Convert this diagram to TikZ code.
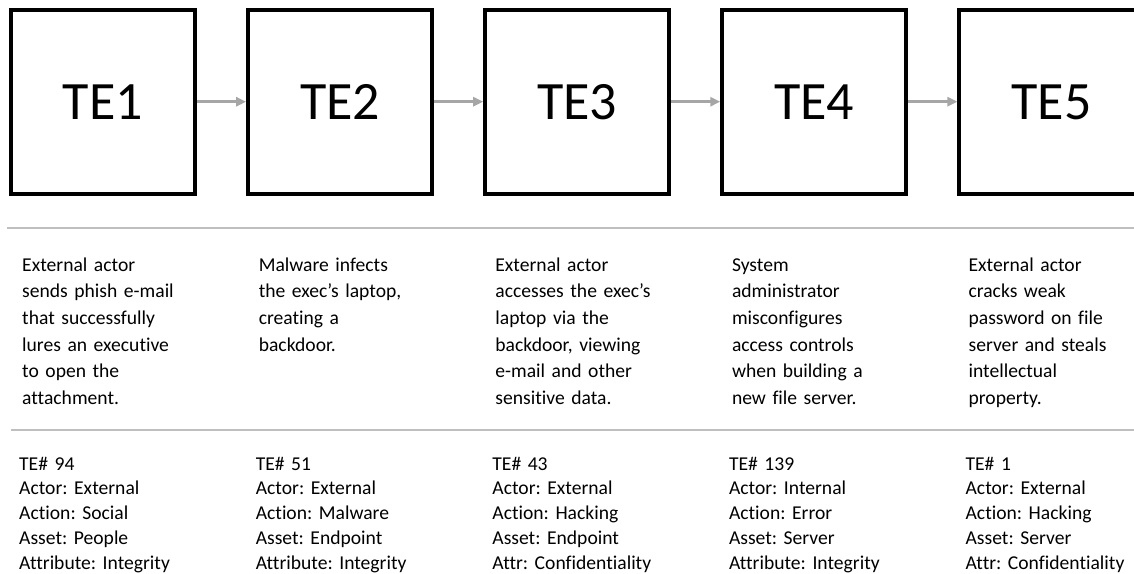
\documentclass[tikz,border=0pt]{standalone}
\usepackage{fontspec}
\setmainfont{Carlito}[Ligatures=NoCommon]
\usetikzlibrary{arrows.meta}
\definecolor{rulegray}{HTML}{BFBFBF}
\definecolor{arrowgray}{HTML}{A6A6A6}
\tikzset{
  tebox/.style={draw=black, line width=4pt, minimum width=184pt, minimum height=184pt,
    inner sep=0pt, text height=35pt, text depth=0pt, font=\fontsize{54pt}{60pt}\selectfont},
  flow/.style={draw=arrowgray, line width=3pt, -{Triangle[length=10pt,width=9pt]}},
  rule/.style={draw=rulegray, line width=2pt},
  desc/.style={anchor=base west, inner sep=0pt, text width=230pt, align=left,
    font=\fontsize{19.6pt}{26.6pt}\selectfont\frenchspacing},
  attrs/.style={anchor=base west, inner sep=0pt, text width=230pt, align=left,
    font=\fontsize{19.6pt}{24.8pt}\selectfont\frenchspacing},
}
\begin{document}
\begin{tikzpicture}[x=1pt,y=-1pt]
\useasboundingbox (0,0) rectangle (1134,573);
\clip (0,0) rectangle (1134,573);
\fill[white] (0,0) rectangle (1134,573);

% event boxes
\node[tebox] (b1) at (103,101.7) {TE1};
\node[tebox] (b2) at (340.1,101.7) {TE2};
\node[tebox] (b3) at (577.2,101.7) {TE3};
\node[tebox] (b4) at (814.3,101.7) {TE4};
\node[tebox] (b5) at (1051.4,101.7) {TE5};

% sequence arrows
\draw[flow] (b1.east) -- (b2.west);
\draw[flow] (b2.east) -- (b3.west);
\draw[flow] (b3.east) -- (b4.west);
\draw[flow] (b4.east) -- (b5.west);

% separator rules
\coordinate (r1a) at (7.3,228.3);
\coordinate (r1b) at (1134,228.3);
\coordinate (r2a) at (10.7,429.5);
\coordinate (r2b) at (1134,429.5);
\draw[rule] (r1a) -- (r1b);
\draw[rule] (r2a) -- (r2b);

% descriptions
\node[desc] (d1) at (22,271.3) {External actor\\sends phish e-mail\\that successfully\\lures an executive\\to open the\\attachment.};
\node[desc] (d2) at (258.6,271.3) {Malware infects\\the exec’s laptop,\\creating a\\backdoor.};
\node[desc] (d3) at (495.2,271.3) {External actor\\accesses the exec’s\\laptop via the\\backdoor, viewing\\e-mail and other\\sensitive data.};
\node[desc] (d4) at (731.8,271.3) {System\\administrator\\misconfigures\\access controls\\when building a\\new file server.};
\node[desc] (d5) at (968.4,271.3) {External actor\\cracks weak\\password on file\\server and steals\\intellectual\\property.};

% classification details
\node[attrs] (a1) at (19,470) {TE\# 94\\Actor: External\\Action: Social\\Asset: People\\Attribute: Integrity};
\node[attrs] (a2) at (255.6,470) {TE\# 51\\Actor: External\\Action: Malware\\Asset: Endpoint\\Attribute: Integrity};
\node[attrs] (a3) at (492.2,470) {TE\# 43\\Actor: External\\Action: Hacking\\Asset: Endpoint\\Attr: Confidentiality};
\node[attrs] (a4) at (728.8,470) {TE\# 139\\Actor: Internal\\Action: Error\\Asset: Server\\Attribute: Integrity};
\node[attrs] (a5) at (965.4,470) {TE\# 1\\Actor: External\\Action: Hacking\\Asset: Server\\Attr: Confidentiality};
\end{tikzpicture}
\end{document}
